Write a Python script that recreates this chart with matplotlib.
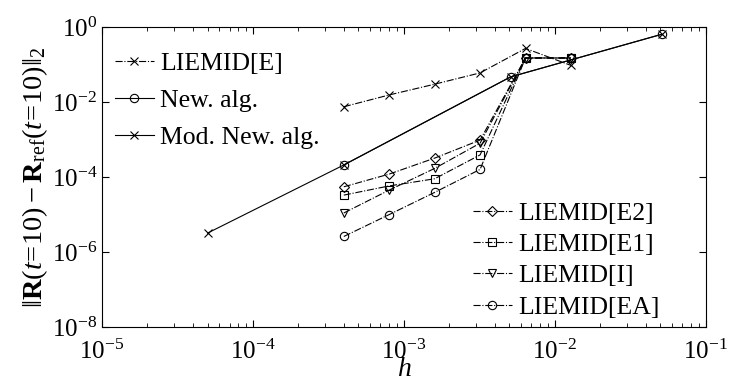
import matplotlib
matplotlib.use('Agg')
import matplotlib.pyplot as plt

plt.rcParams['font.family'] = 'serif'
plt.rcParams['font.serif'] = ['Liberation Serif', 'DejaVu Serif']
plt.rcParams['mathtext.fontset'] = 'custom'
plt.rcParams['mathtext.rm'] = 'Liberation Serif'
plt.rcParams['mathtext.it'] = 'Liberation Serif:italic'
plt.rcParams['mathtext.bf'] = 'Liberation Serif:bold'

# step sizes
h_new = [4e-4, 5.1e-3, 5.1e-2]
h_mod = [5e-5, 4e-4, 5.1e-3, 5.1e-2]
h_liemid = [4e-4, 8e-4, 1.6e-3, 3.2e-3, 6.4e-3, 1.28e-2]

# errors
err_new = [2.1e-4, 4.7e-2, 0.64]
err_mod = [3.2e-6, 2.1e-4, 4.7e-2, 0.64]
err_E = [7.5e-3, 1.55e-2, 3.0e-2, 6.0e-2, 0.27, 0.095]
err_E2 = [5.5e-5, 1.2e-4, 3.2e-4, 9.7e-4, 0.15, 0.15]
err_E1 = [3.3e-5, 5.8e-5, 9.0e-5, 3.9e-4, 0.15, 0.15]
err_I = [1.1e-5, 4.5e-5, 1.7e-4, 8.0e-4, 0.15, 0.15]
err_EA = [2.6e-6, 1.0e-5, 3.9e-5, 1.6e-4, 0.15, 0.15]

fig = plt.figure(figsize=(7.29, 3.87), dpi=100)
ax = fig.add_axes([0.14, 0.155, 0.828, 0.775])

lw = 0.8
ms = 6
kw = dict(color='k', lw=lw, mfc='none', mew=0.8, ms=ms)

lE, = ax.plot(h_liemid, err_E, '-.', marker='x', label='LIEMID[E]', **kw)
lN, = ax.plot(h_new, err_new, '-', marker='o', label='New. alg.', **kw)
lM, = ax.plot(h_mod, err_mod, '-', marker='x', label='Mod. New. alg.', **kw)
l2, = ax.plot(h_liemid, err_E2, '-.', marker='D', label='LIEMID[E2]',
              **dict(kw, ms=5))
l1, = ax.plot(h_liemid, err_E1, '-.', marker='s', label='LIEMID[E1]', **kw)
lI, = ax.plot(h_liemid, err_I, '-.', marker='v', label='LIEMID[I]', **kw)
lA, = ax.plot(h_liemid, err_EA, '-.', marker='o', label='LIEMID[EA]', **kw)

ax.set_xscale('log')
ax.set_yscale('log')
ax.set_xlim(1e-5, 1e-1)
ax.set_ylim(1e-8, 1e0)
ax.set_yticks([1e-8, 1e-6, 1e-4, 1e-2, 1e0])
ax.yaxis.set_minor_locator(matplotlib.ticker.NullLocator())
ax.tick_params(which='both', direction='in', top=True, right=True,
               labelsize=18)
ax.tick_params(axis='x', pad=9)
ax.tick_params(which='major', length=5)
ax.tick_params(which='minor', length=3)

ax.set_xlabel(r'$h$', fontsize=20, labelpad=-5)
ax.set_ylabel(r'$\Vert\mathbf{R}(t\!=\!10) - \mathbf{R}_{\rm ref}(t\!=\!10)\Vert_2$',
              fontsize=20.5, labelpad=1)

leg_kw = dict(frameon=False, fontsize=18.5, handlelength=1.5,
              handletextpad=0.25, borderpad=0, borderaxespad=0,
              loc='upper left', bbox_transform=fig.transFigure)
leg1 = ax.legend(handles=[lE, lN, lM], labelspacing=0.55,
                 bbox_to_anchor=(115 / 729, 1 - 52 / 387), **leg_kw)
ax.add_artist(leg1)
ax.legend(handles=[l2, l1, lI, lA], labelspacing=0.32,
          bbox_to_anchor=(473 / 729, 1 - 202 / 387), **leg_kw)

fig.savefig('out.png', dpi=100)
